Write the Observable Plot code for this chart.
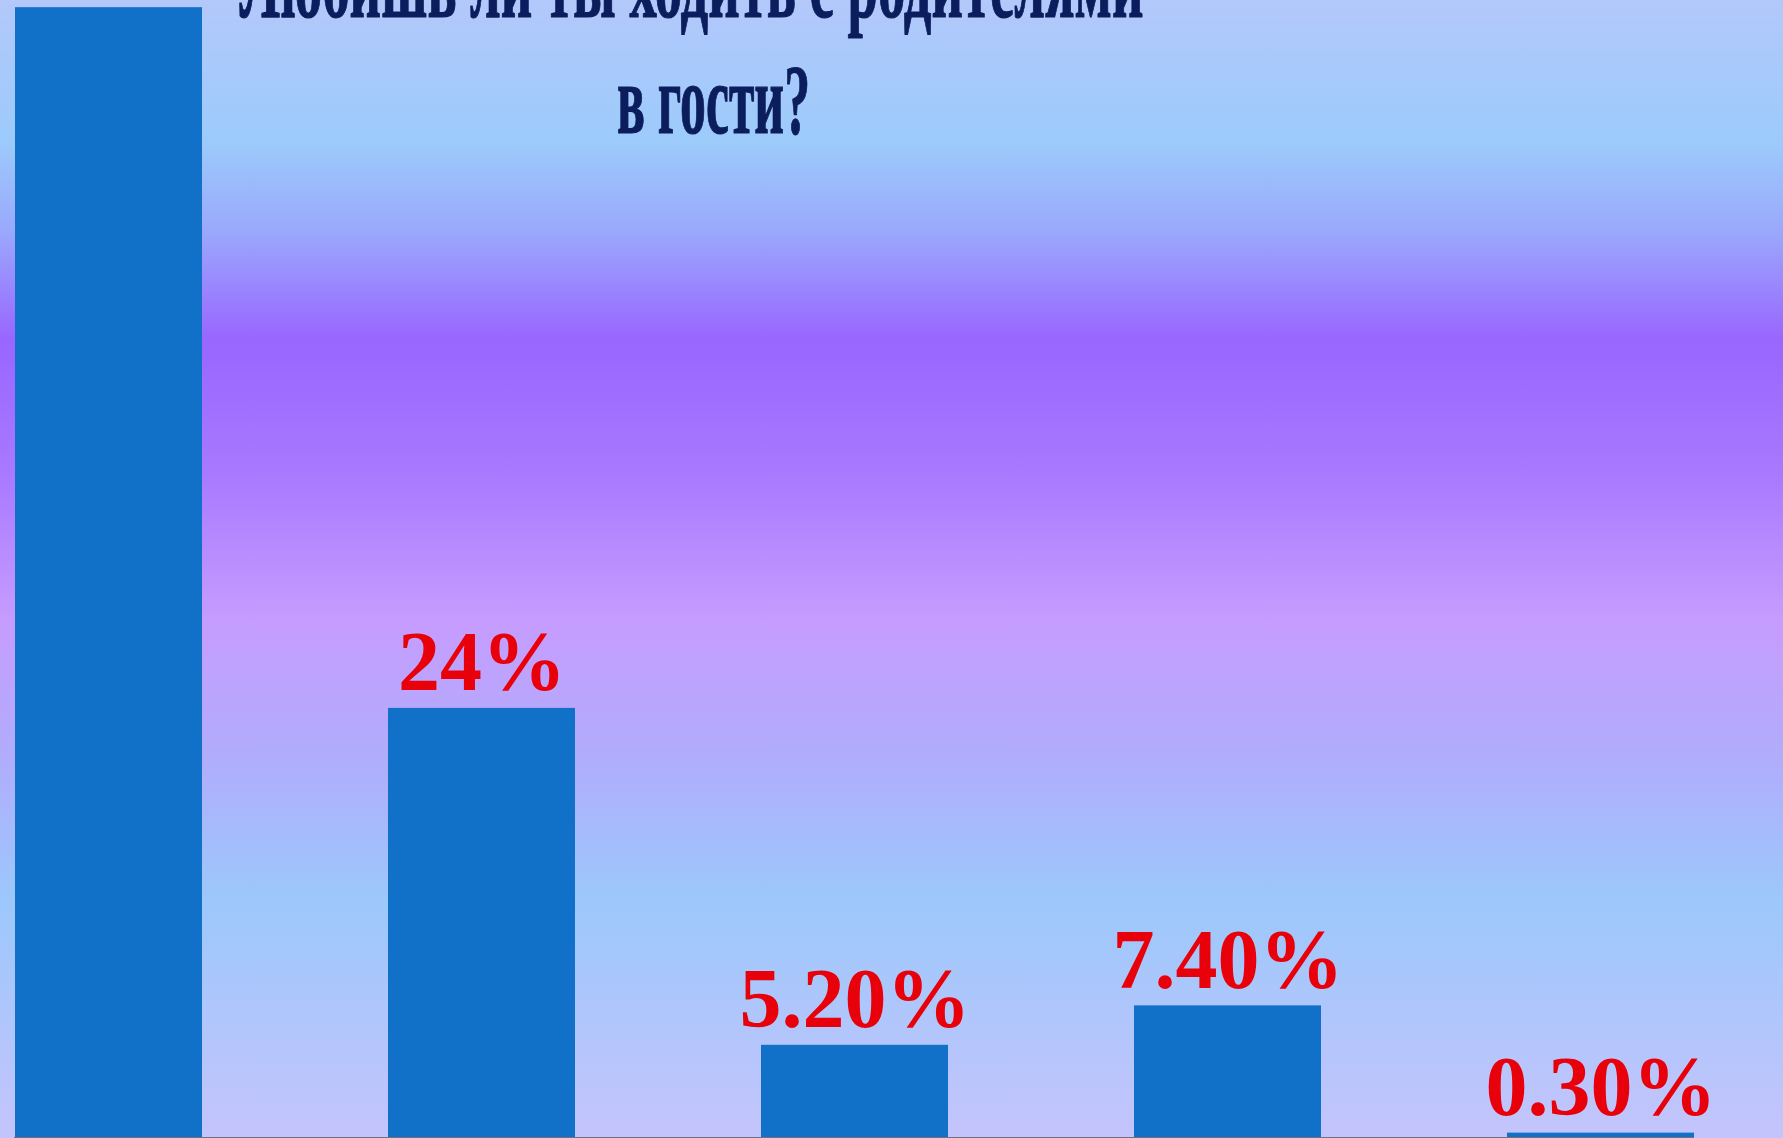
<!DOCTYPE html>
<html><head><meta charset="utf-8">
<script src="https://cdn.jsdelivr.net/npm/d3@7"></script>
<script src="https://cdn.jsdelivr.net/npm/@observablehq/plot@0.6"></script>
<style>
html,body{margin:0;padding:0;overflow:hidden;background:#c4c4fc}
#chart svg{overflow:hidden;display:block}
</style>
</head><body><div id="chart"></div>
<script>
const categories = ["1", "2", "3", "4", "5"];
const values = [63.1, 24, 5.2, 7.4, 0.3];
// the first bar's label lies above the cropped picture, so it is not drawn
const labels = [null, "24%", "5.20%", "7.40%", "0.30%"];
const titleLines = ["Любишь ли ты ходить с родителями", "в гости?"];

const data = categories.map((c, i) => ({category: c, value: values[i], label: labels[i]}));
const labelData = data.filter(d => d.label !== null);
const titleData = [
  {text: titleLines[0], dx: 677, dy: 16, len: 904},
  {text: titleLines[1], dx: 699, dy: 132, len: 193}
];

const bg = "linear-gradient(to bottom, #b3c8fb 0px, #9ccbfb 140px, #9aa9fc 230px, #9966ff 340px, #a878ff 470px, #c69cff 620px, #b0adfc 760px, #9cc8fb 900px, #c4c4fc 1138px)";

const plot = Plot.plot({
  width: 1783,
  height: 1138,
  marginLeft: 14,
  marginRight: 89,
  marginTop: 0,
  marginBottom: 0,
  x: {domain: categories, paddingInner: 0.5, paddingOuter: 0, axis: null},
  y: {domain: [0, 63.5], axis: null},
  style: {background: bg, fontFamily: "Liberation Serif", overflow: "hidden"},
  marks: [
    Plot.barY(data, {x: "category", y: "value", fill: "#1170c8"}),
    Plot.text(labelData, {x: "category", y: "value", text: "label", lineAnchor: "bottom", dy: -18,
      fill: "#e8000b", fontSize: 84, fontWeight: "bold", fontFamily: "Liberation Serif"}),
    Plot.ruleY([0], {stroke: "#6f6f80", strokeWidth: 3}),
    ...titleData.map(t => Plot.text([t.text], {
      frameAnchor: "top-left", dx: t.dx, dy: t.dy, lineAnchor: "bottom", textAnchor: "middle",
      fill: "#0b1d5c", stroke: "#0b1d5c", strokeWidth: 1.2, fontSize: 100, fontWeight: "bold",
      fontFamily: "Liberation Serif"
    }))
  ]
});

document.getElementById("chart").appendChild(plot);

titleData.forEach(t => {
  d3.select(plot).selectAll("text")
    .filter(function() { return this.textContent === t.text; })
    .attr("textLength", t.len)
    .attr("lengthAdjust", "spacingAndGlyphs");
});
</script>
</body></html>
